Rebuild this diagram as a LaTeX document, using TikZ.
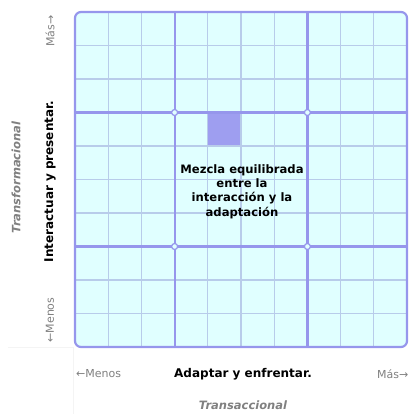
\documentclass[tikz,border=0pt]{standalone}
\usepackage{fontspec}
\setmainfont{DejaVu Sans}
\definecolor{bgc}{RGB}{224,255,255}
\definecolor{majc}{RGB}{150,150,236}
\definecolor{minc}{RGB}{184,204,234}
\definecolor{hlc}{RGB}{158,158,240}
\definecolor{txg}{RGB}{128,128,128}
\definecolor{faint}{RGB}{244,244,244}
\tikzset{
  minorline/.style={draw=minc, line width=1.2pt},
  majorline/.style={draw=majc, line width=2.2pt},
  joint/.style={circle, draw=majc, fill=bgc, line width=1.2pt, inner sep=0pt, minimum size=6pt},
  axtext/.style={font=\fontsize{11}{13}\selectfont, text=txg, inner sep=0pt},
  axlabel/.style={font=\bfseries\fontsize{12}{14}\selectfont, text=black, inner sep=0pt},
  axtitle/.style={font=\bfseries\itshape\fontsize{11.5}{13}\selectfont, text=txg, inner sep=0pt},
  centertext/.style={font=\bfseries\fontsize{11.6}{14.4}\selectfont, align=center, inner sep=0pt}
}
\begin{document}
\begin{tikzpicture}[x=1pt,y=-1pt]
\useasboundingbox (0,0) rectangle (408,414);
% faint separators
\draw[faint, line width=0.8pt] (8,347) -- (73,347) (73,347) -- (73,414);
% background
\fill[bgc, rounded corners=6pt] (75,12) rectangle (407,347);
% highlighted cell
\fill[hlc] (75+4*33.2,12+3*33.5) rectangle (75+5*33.2,12+4*33.5);
% minor lines
\foreach \i in {1,2,4,5,6,8,9} {
  \draw[minorline] (75+\i*33.2,12) -- (75+\i*33.2,347);
  \draw[minorline] (75,12+\i*33.5) -- (407,12+\i*33.5);
}
% major lines
\foreach \i in {3,7} {
  \draw[majorline] (75+\i*33.2,12) -- (75+\i*33.2,347);
  \draw[majorline] (75,12+\i*33.5) -- (407,12+\i*33.5);
}
\draw[majorline, rounded corners=6pt] (75,12) rectangle (407,347);
% joints
\foreach \i/\j [count=\k] in {3/3,3/7,7/3,7/7} {
  \node[joint] (j\k) at (75+\i*33.2,12+\j*33.5) {};
}
% center text
\node[centertext] (mix) at (242,191.5) {Mezcla equilibrada\\entre la\\interacción y la\\adaptación};
% left axis
\node[axtext, rotate=90] (masL) at (50,31) {Más→};
\node[axtext, rotate=90] (menosL) at (50,320) {←Menos};
\node[axlabel, rotate=90] (interL) at (50,181.5) {Interactuar y presentar.};
\node[axtitle, rotate=90] (transf) at (16,177.5) {Transformacional};
% bottom axis
\node[axtext, anchor=west] (menosB) at (76,374) {←Menos};
\node[axlabel] (adapt) at (243,374) {Adaptar y enfrentar.};
\node[axtext, anchor=west] (masB) at (377,374) {Más→};
\node[axtitle] (transac) at (243,405) {Transaccional};
\end{tikzpicture}
\end{document}
